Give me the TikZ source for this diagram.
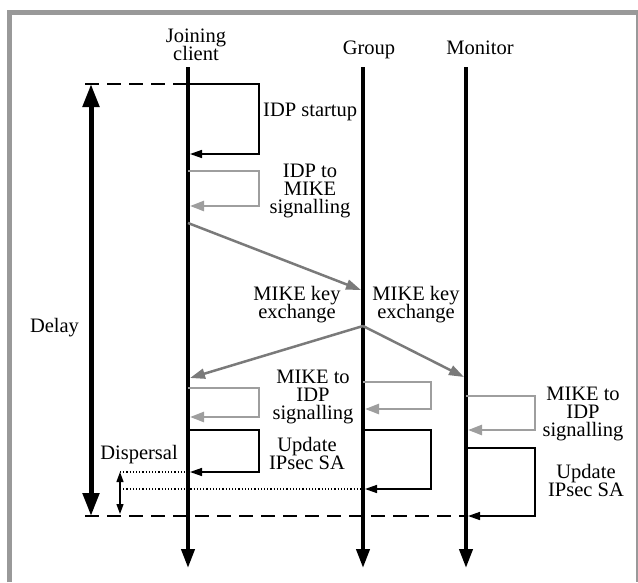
\documentclass[tikz,border=0pt]{standalone}
\usepackage{fontspec}
\setmainfont{Liberation Serif}
\newfontfamily\lblfont{Liberation Serif}
\usepackage{tikz}
\usetikzlibrary{arrows.meta}

\definecolor{framegray}{gray}{0.6}
\definecolor{loopgray}{gray}{0.62}
\definecolor{msggray}{gray}{0.48}
\setlength{\lineskiplimit}{-20pt}

\begin{document}
\begin{tikzpicture}[x=1pt,y=-1pt,
  lbl/.style={font=\lblfont\fontsize{20.5}{18}\selectfont, align=center, inner sep=0pt},
  life/.style={line width=4pt, -{Triangle[width=13pt,length=19pt]}},
  selfblack/.style={line width=1.5pt, -{Triangle[width=8pt,length=12pt]}},
  selfgray/.style={line width=2.5pt, loopgray, -{Triangle[width=10pt,length=14pt]}},
  msg/.style={line width=2.5pt, msggray, -{Triangle[width=10pt,length=15pt]}},
  bound/.style={line width=2pt, dash pattern=on 14pt off 8pt},
  spread/.style={line width=1.2pt, dotted}]
\useasboundingbox (0,0) rectangle (638,582);
% frame
\draw[framegray, line width=5pt] (9.5,582) -- (9.5,12) -- (638,12);
\draw[framegray, line width=1.2pt] (637,12) -- (637,582);

% heads and lifelines
\node[lbl] (jc) at (196,45) {Joining\\client};
\node[lbl, anchor=base] (grp) at (369,54) {Group};
\node[lbl, anchor=base] (mon) at (480,54) {Monitor};
\coordinate (jc top) at (188,67);
\coordinate (jc end) at (188,568);
\coordinate (grp top) at (363,67);
\coordinate (grp end) at (363,568);
\coordinate (mon top) at (466,67);
\coordinate (mon end) at (466,568);
\draw[life] (jc top) -- (jc end);
\draw[life] (grp top) -- (grp end);
\draw[life] (mon top) -- (mon end);

% points on the lifelines
\coordinate (st in) at (188,84);    \coordinate (st out) at (190,154);
\coordinate (sg in) at (188,171);   \coordinate (sg out) at (190,206);
\coordinate (kx c) at (188,223);    \coordinate (kx g) at (361,290);
\coordinate (kx g2) at (363,326);
\coordinate (kx c2) at (190,378);   \coordinate (kx m) at (464,377);
\coordinate (cg in) at (188,388);   \coordinate (cg out) at (190,417);
\coordinate (cu in) at (188,430);   \coordinate (cu out) at (190,472);
\coordinate (gg in) at (363,382);   \coordinate (gg out) at (365,409);
\coordinate (gu in) at (363,430);   \coordinate (gu out) at (365,489);
\coordinate (mg in) at (466,396);   \coordinate (mg out) at (468,430);
\coordinate (mu in) at (466,448);   \coordinate (mu out) at (468,516);

% start and end of the delay
\coordinate (bt) at (85,84);
\coordinate (bb) at (85,516);
\draw[bound] (bt) -- (st in);
\draw[bound] (bb) -- (mu out);
\coordinate (dl top) at (91,84);
\coordinate (dl bot) at (91,516);
\draw[line width=5pt, {Triangle[width=16pt,length=23pt]}-{Triangle[width=16pt,length=23pt]}] (dl top) -- (dl bot);
\node[lbl, anchor=base] (delay) at (54.5,332) {Delay};

% joining client
\draw[selfblack] (st in) -- ++(71,0) |- (st out);
\node[lbl, anchor=base west] (startup) at (263,116) {IDP startup};
\draw[selfgray] (sg in) -- ++(71,0) |- (sg out);
\node[lbl, anchor=north] (sig1) at (310,163.5) {IDP to\\MIKE\\signalling};

% key exchange
\draw[msg] (kx c) -- (kx g);
\draw[msg] (kx g2) -- (kx c2);
\draw[msg] (kx g2) -- (kx m);
\node[lbl, anchor=north] (kx1) at (297,286.5) {MIKE key\\exchange};
\node[lbl, anchor=north] (kx2) at (416,286.5) {MIKE key\\exchange};

% back to IDP
\draw[selfgray] (cg in) -- ++(71,0) |- (cg out);
\draw[selfgray] (gg in) -- ++(68,0) |- (gg out);
\draw[selfgray] (mg in) -- ++(69,0) |- (mg out);
\node[lbl, anchor=north] (sig2) at (313,369.5) {MIKE to\\IDP\\signalling};
\node[lbl, anchor=north] (sig3) at (583,386.5) {MIKE to\\IDP\\signalling};

% SA updates
\draw[selfblack] (cu in) -- ++(71,0) |- (cu out);
\draw[selfblack] (gu in) -- ++(68,0) |- (gu out);
\draw[selfblack] (mu in) -- ++(69,0) |- (mu out);
\node[lbl, anchor=north] (upd1) at (307,437.5) {Update\\IPsec SA};
\node[lbl, anchor=north] (upd2) at (586,464.5) {Update\\IPsec SA};

% dispersal
\coordinate (dp1) at (120,472);
\coordinate (dp2) at (120,489);
\coordinate (dp3) at (120,514);
\draw[spread] (dp1) -- (cu out);
\draw[spread] (dp2) -- (gu out);
\draw[line width=1.2pt, {Triangle[width=7pt,length=10pt]}-{Triangle[width=7pt,length=10pt]}] (dp1) -- (dp3);
\node[lbl, anchor=base] (disp) at (139,459) {Dispersal};
\end{tikzpicture}
\end{document}
